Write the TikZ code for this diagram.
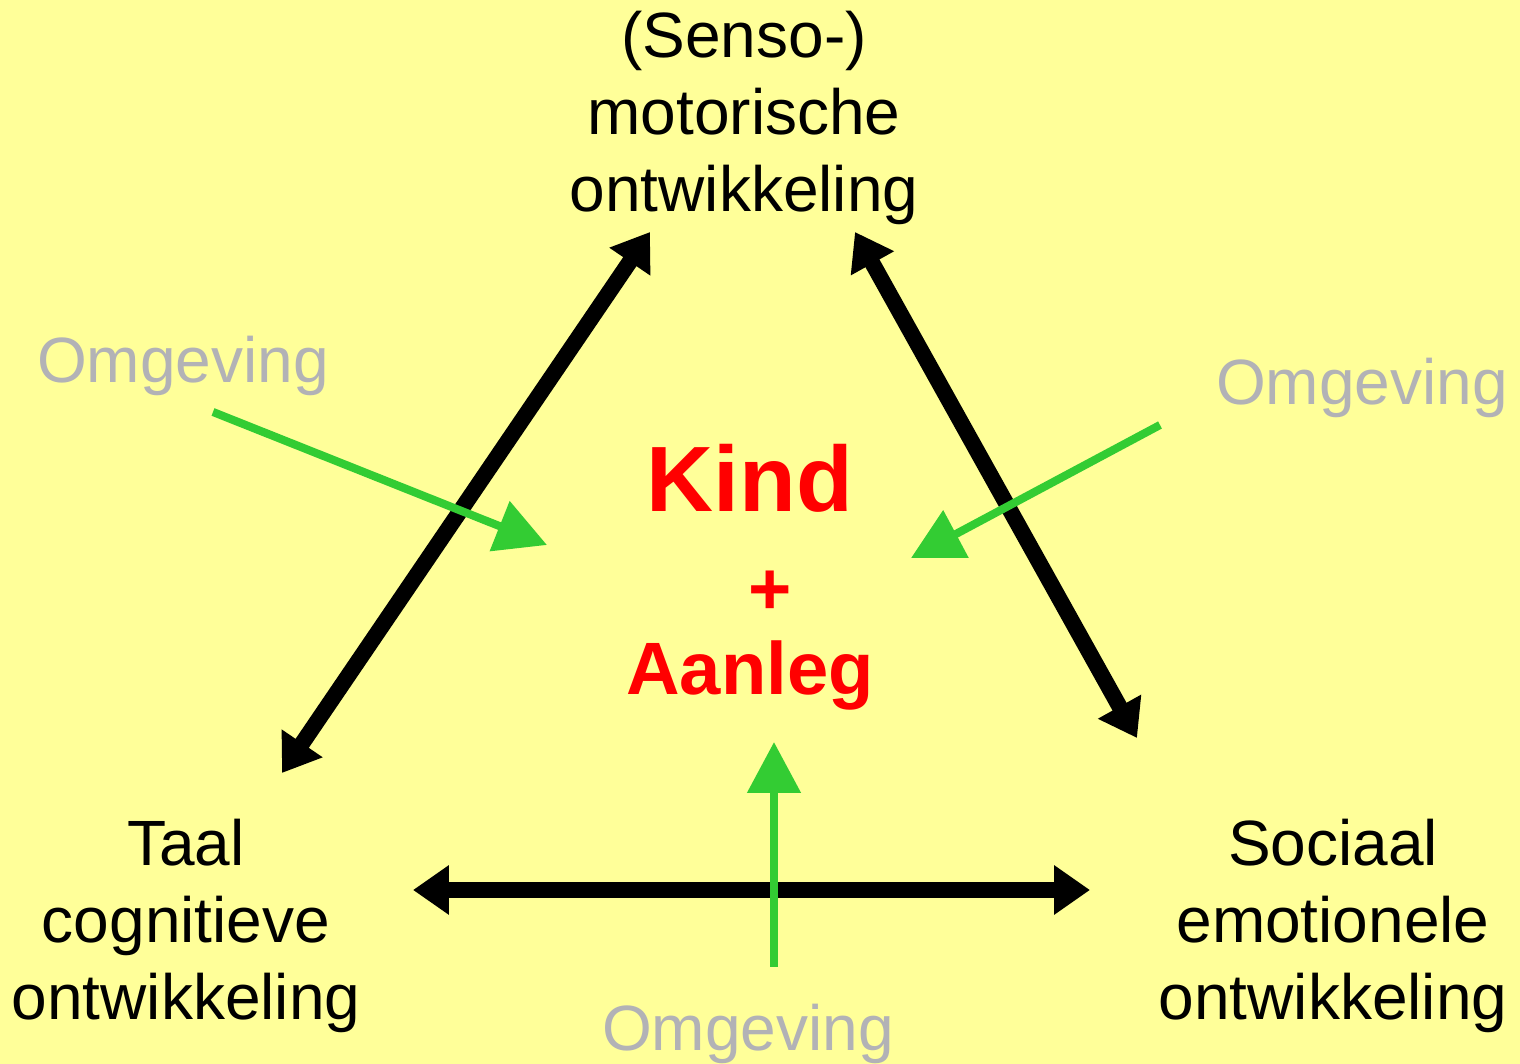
\documentclass[tikz,border=0pt]{standalone}
\usepackage{fontspec}
\setmainfont{Liberation Sans}
\usetikzlibrary{arrows.meta,positioning}
\definecolor{bgyellow}{HTML}{FFFF99}
\definecolor{envgreen}{HTML}{33CC33}
\definecolor{envgray}{HTML}{B2B2B6}

\begin{document}
\begin{tikzpicture}[
  x=0.01cm, y=-0.01cm,
  font=\fontsize{18.2}{21.9}\selectfont,
  area/.style={align=center, inner sep=0pt, anchor=base},
  env/.style={text=envgray, inner sep=0pt, anchor=base},
  core/.style={text=red, inner sep=0pt, anchor=base},
  link/.style={{Triangle[length=10.2pt,width=13.4pt]}-{Triangle[length=10.2pt,width=13.4pt]},
               line width=4.55pt},
  push/.style={-{Triangle[length=14.5pt,width=14.8pt]}, line width=2.3pt, envgreen}
]
  \useasboundingbox (0,0) rectangle (1520,1064);
  \fill[bgyellow] (0,0) rectangle (1520,1064);

  % the three areas of development
  \node[area] (motor) at (744,212) {(Senso-)\\motorische\\ontwikkeling};
  \node[area] (taal) at (186,1020) {Taal\\cognitieve\\ontwikkeling};
  \node[area] (sociaal) at (1333,1020) {Sociaal\\emotionele\\ontwikkeling};

  % the child in the middle
  \node[core, font=\fontsize{26.4}{30}\bfseries\selectfont] (kind) at (750,512) {Kind};
  \node[core, font=\fontsize{21.1}{25}\bfseries\selectfont] (plus) at (770,615) {+};
  \node[core, font=\fontsize{21.1}{25}\bfseries\selectfont] (aanleg) at (750,695) {Aanleg};

  % environment, from three sides
  \node[env] (omg-left) at (183,383) {Omgeving};
  \node[env] (omg-right) at (1362,405) {Omgeving};
  \node[env] (omg-below) at (748,1051) {Omgeving};

  % arrow ends
  \coordinate (taal-top) at (282,773);
  \coordinate (motor-left) at (650,232);
  \coordinate (motor-right) at (855,232);
  \coordinate (sociaal-top) at (1137,738);
  \coordinate (taal-right) at (413,890);
  \coordinate (sociaal-left) at (1090,890);
  \coordinate (omg-left-from) at (213,412);
  \coordinate (kind-left) at (547,545);
  \coordinate (omg-right-from) at (1160,425);
  \coordinate (kind-right) at (911,558);
  \coordinate (omg-below-from) at (774,967);
  \coordinate (aanleg-below) at (774,742);

  % the areas influence each other
  \draw[link] (taal-top) -- (motor-left);
  \draw[link] (motor-right) -- (sociaal-top);
  \draw[link] (taal-right) -- (sociaal-left);
  % the environment acts on the child
  \draw[push] (omg-left-from) -- (kind-left);
  \draw[push] (omg-right-from) -- (kind-right);
  \draw[push] (omg-below-from) -- (aanleg-below);
\end{tikzpicture}
\end{document}
